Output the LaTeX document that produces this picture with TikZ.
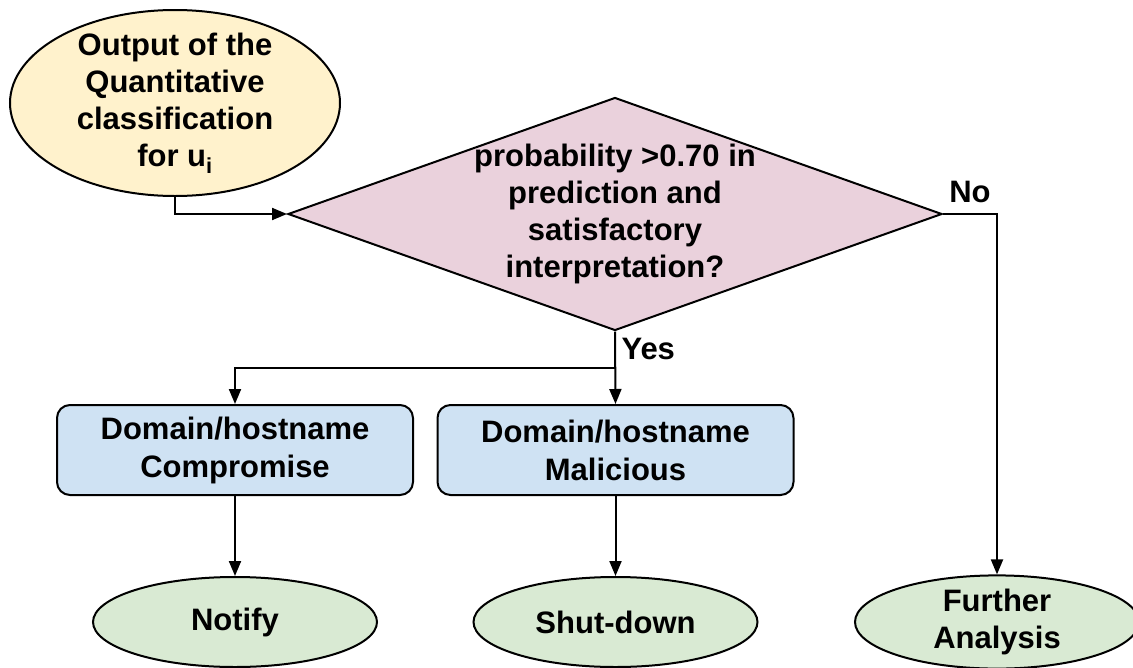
\documentclass[tikz,border=0pt]{standalone}
\usepackage{fontspec}
\setmainfont{Liberation Sans}
\usetikzlibrary{shapes.geometric,arrows.meta}
\definecolor{ovalyellow}{HTML}{FFF2CC}
\definecolor{decpink}{HTML}{EAD1DC}
\definecolor{boxblue}{HTML}{CFE2F3}
\definecolor{endgreen}{HTML}{D9EAD3}
\begin{document}
\begin{tikzpicture}[x=1pt,y=-1pt,
  every node/.style={font=\fontsize{31}{37}\selectfont\bfseries, align=center},
  outline/.style={draw=black, line width=2pt},
  startoval/.style={outline, ellipse, fill=ovalyellow, inner sep=0pt,
    minimum width=330pt, minimum height=186pt},
  decision/.style={outline, diamond, fill=decpink, inner sep=0pt,
    minimum width=654pt, minimum height=233pt},
  stepbox/.style={outline, rectangle, rounded corners=13pt, fill=boxblue,
    minimum width=356pt, minimum height=90pt, inner sep=0pt,
    font=\fontsize{31}{38}\selectfont\bfseries},
  endoval/.style={outline, ellipse, fill=endgreen, inner sep=0pt,
    minimum width=284pt, minimum height=90pt},
  flow/.style={line width=2pt, -{Triangle[length=15pt,width=12pt]}},
  tag/.style={font=\fontsize{31}{37}\selectfont\bfseries}
]
\useasboundingbox (0,0) rectangle (1133,667);

% start: classifier output
\node[startoval] (out) at (175,103) {};
\node at (out.center) {Output of the\\Quantitative\\classification\\for u\textsubscript{i}};

% decision
\node[decision] (dec) at (615,214) {};
\node at (dec.center) {probability >0.70 in\\prediction and\\satisfactory\\interpretation?};

% outcome boxes
\node[stepbox] (comp) at (235,450) {Domain/hostname\\Compromise};
\node[stepbox] (mal) at (615.5,450) {Domain/hostname\\Malicious};

% actions
\node[endoval] (notify) at (235,622) {Notify};
\node[endoval] (shut) at (615.5,622) {Shut-down};
\node[endoval] (further) at (997,622) {Further\\Analysis};

% connectors
\coordinate (split) at (615,368);
\draw[flow] (out.south) |- (dec.west);
\draw[flow] (dec.south) -- (mal.north);
\draw[flow] (split) -| (comp.north);
\draw[flow] (dec.east) -| (further.north);
\draw[flow] (comp.south) -- (notify.north);
\draw[flow] (mal.south) -- (shut.north);

% branch labels
\node[tag, anchor=west] (yes) at (618,349) {Yes};
\node[tag] (no) at (970,192) {No};
\end{tikzpicture}
\end{document}
